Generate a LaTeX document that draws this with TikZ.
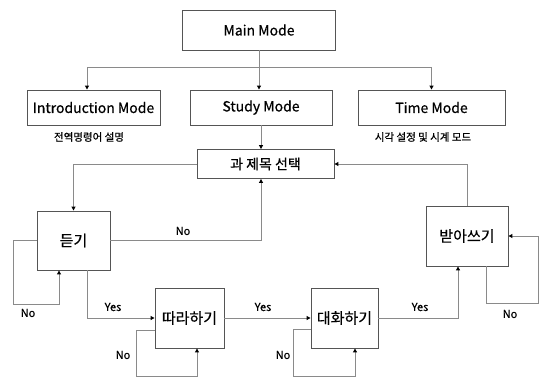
\documentclass[tikz,border=0pt]{standalone}
\usepackage{fontspec}
\setmainfont{Noto Sans CJK KR}[FakeBold=0.6]
\usetikzlibrary{arrows.meta}
\definecolor{linegray}{HTML}{8A8A8A}
\definecolor{boxgray}{HTML}{555555}
\tikzset{
  box/.style={draw=boxgray, line width=0.9pt, fill=white, inner sep=0pt, font=\fontsize{14}{16}\selectfont},
  kbox/.style={box, font=\fontsize{15}{17}\selectfont},
  arr/.style={draw=linegray, line width=1pt, -{Triangle[length=4pt,width=4pt,color=black]}},
  ln/.style={draw=linegray, line width=1pt},
  lbl/.style={font=\fontsize{11}{13}\selectfont, inner sep=0pt},
  captext/.style={font=\fontsize{10.5}{12}\selectfont, inner sep=0pt}
}
\begin{document}
\begin{tikzpicture}[x=1pt,y=-1pt]
\useasboundingbox[fill=white] (0,0) rectangle (540,377);
% nodes
\node[box, minimum width=153pt, minimum height=40pt] (main) at (259,30) {Main Mode};
\node[box, minimum width=133pt, minimum height=35pt] (intro) at (93.5,107.5) {Introduction Mode};
\node[box, minimum width=142pt, minimum height=35pt] (study) at (261,107.5) {Study Mode};
\node[box, minimum width=147pt, minimum height=35pt] (time) at (431.5,107.5) {Time Mode};
\node[captext] (cap1) at (89,137) {전역명령어 설명};
\node[captext] (cap2) at (423,137) {시각 설정 및 시계 모드};
\node[box, minimum width=137pt, minimum height=29pt] (topic) at (265.5,164) {과 제목 선택};
\node[kbox, minimum width=73pt, minimum height=59pt] (listen) at (73.5,240.5) {듣기};
\node[kbox, minimum width=69pt, minimum height=60pt] (follow) at (189.5,318) {따라하기};
\node[kbox, minimum width=67pt, minimum height=60pt] (talk) at (344.5,318) {대화하기};
\node[kbox, minimum width=82pt, minimum height=60pt] (recv) at (467,236) {받아쓰기};
% loop corner coordinates
\coordinate (br) at (259,68);
\coordinate (l1) at (13,304);
\coordinate (l2) at (59,304);
\coordinate (f1) at (136,376);
\coordinate (f2) at (197,376);
\coordinate (t1) at (293,376);
\coordinate (t2) at (355,376);
\coordinate (r2) at (538,303);
% top tree
\draw[arr] (main.south) -- (main.south |- study.north);
\draw[ln] ([xshift=-6.5pt]intro.north |- br) -- (time.north |- br);
\draw[arr] ([xshift=-6.5pt]intro.north |- br) -- ([xshift=-6.5pt]intro.north);
\draw[arr] (time.north |- br) -- (time.north);
\draw[arr] (study.south) -- (study.south |- topic.north);
% topic to listen
\draw[arr] (topic.west) -| (listen.north);
% listen No back to topic
\draw[arr] (listen.east) -| (study.south |- topic.south);
\node[lbl] (no1) at (183,231) {No};
% listen self loop
\draw[arr] (listen.west) -| (l1) -- (l2) -- (l2 |- listen.south);
\node[lbl] (no2) at (28,313) {No};
% listen yes to follow
\draw[arr] ([xshift=13.5pt]listen.south) |- (follow.west);
\node[lbl] (yes1) at (113,307) {Yes};
% follow loop
\draw[arr] ([yshift=-12pt]follow.west) -| (f1) -- (f2) -- (f2 |- follow.south);
\node[lbl] (no3) at (123,355) {No};
% follow to talk
\draw[arr] (follow.east) -- (talk.west);
\node[lbl] (yes2) at (263,307) {Yes};
% talk loop
\draw[arr] ([yshift=-11pt]talk.west) -| (t1) -- (t2) -- (t2 |- talk.south);
\node[lbl] (no4) at (283,355) {No};
% talk to recv
\draw[arr] (talk.east) -| ([xshift=-9pt]recv.south);
\node[lbl] (yes3) at (420,307) {Yes};
% recv loop
\draw[arr] ([xshift=19pt]recv.south) |- (r2) |- (recv.east);
\node[lbl] (no5) at (510,314) {No};
% recv back to topic
\draw[arr] (recv.north) |- (topic.east);
\end{tikzpicture}
\end{document}
